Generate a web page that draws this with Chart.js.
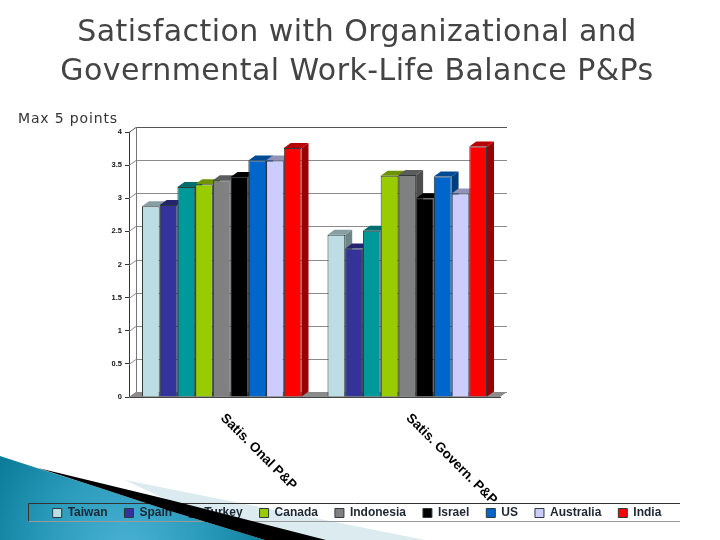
<!DOCTYPE html>
<html lang="en">
<head>
<meta charset="UTF-8">
<title>Satisfaction with Work-Life Balance P&amp;Ps</title>
<script src="https://cdn.jsdelivr.net/npm/chart.js"></script>
<style>
    html, body { margin: 0; background: #fff; }
    #wrap { position: relative; width: 720px; height: 540px; overflow: hidden; }
    #heading { position: absolute; left: 0; top: 11px; width: 714px; text-align: center; font: 30px/39px "DejaVu Sans"; letter-spacing: 0.45px; color: #444; }
    #maxNote { position: absolute; left: 18px; top: 110px; font: 14px "DejaVu Sans"; letter-spacing: 0.85px; color: #333; }
</style>
</head>
<body>
<div id="wrap">
    <canvas id="myChart" width="720" height="540"></canvas>
    <div id="heading"></div>
    <div id="maxNote">Max 5 points</div>
</div>
<script>
const categories = ['Satis. Onal P&P', 'Satis. Govern. P&P'];
const countries = ['Taiwan', 'Spain', 'Turkey', 'Canada', 'Indonesia', 'Israel', 'US', 'Australia', 'India'];
const onalValues = [2.88, 2.9, 3.17, 3.21, 3.27, 3.32, 3.57, 3.57, 3.76];
const governValues = [2.45, 2.24, 2.51, 3.34, 3.35, 3.0, 3.33, 3.07, 3.78];
const barColors = ['#bbdde3', '#333399', '#009999', '#99cc00', '#808080', '#000000', '#0066cc', '#ccccff', '#ff0000'];
const titleLines = ['Satisfaction with Organizational and', 'Governmental Work-Life Balance P&Ps'];

document.getElementById('heading').innerHTML = titleLines.map(t => t.replace('&', '&amp;')).join('<br>');

// depth of the fake 3d, px
const DX = 7, DY = 5;

function darken(hex, f) {
    const n = parseInt(hex.slice(1), 16);
    return `rgb(${((n >> 16) & 255) * f},${((n >> 8) & 255) * f},${(n & 255) * f})`;
}

function poly(ctx, pts, fill) {
    ctx.beginPath();
    pts.forEach((p, i) => i ? ctx.lineTo(p[0], p[1]) : ctx.moveTo(p[0], p[1]));
    ctx.closePath();
    ctx.fillStyle = fill;
    ctx.fill();
}

// slide decoration, behind the chart
function drawSwoosh(ctx) {
    poly(ctx, [[125, 480], [425, 540], [250, 540]], '#dcebf0');

    const g = ctx.createRadialGradient(125, 545, 10, 125, 545, 150);
    g.addColorStop(0, '#45aed0');
    g.addColorStop(0.5, '#2a9abb');
    g.addColorStop(1, '#0a7c98');
    poly(ctx, [[0, 456], [40, 469], [100, 488], [170, 511], [265, 540], [0, 540]], g);
}

// black band runs over the legend in the reference
function drawBand(ctx) {
    poly(ctx, [[38, 468], [100, 483], [170, 500], [326, 540], [265, 540], [170, 511], [100, 488]], '#000');
}

const wallPlugin = {
    id: 'wall',
    beforeDraw(chart) {
        const ctx = chart.ctx;
        ctx.save();
        drawSwoosh(ctx);
        // legend frame
        ctx.lineWidth = 1;
        ctx.strokeStyle = '#333';
        ctx.beginPath();
        ctx.moveTo(28.5, 521.5); ctx.lineTo(28.5, 503.5); ctx.lineTo(680, 503.5);
        ctx.stroke();
        ctx.strokeStyle = '#999';
        ctx.beginPath();
        ctx.moveTo(28.5, 521.5); ctx.lineTo(680, 521.5);
        ctx.stroke();
        ctx.restore();
    },
    // walls first, then bars left to right: side, top, library front face
    beforeDatasetsDraw(chart) {
        const ctx = chart.ctx, a = chart.chartArea, y = chart.scales.y;
        ctx.save();
        poly(ctx, [[a.left, a.bottom], [a.left + DX, a.bottom - DY], [a.right + DX, a.bottom - DY], [a.right, a.bottom]], '#8c8c8c');
        ctx.lineWidth = 1;
        y.ticks.forEach(t => {
            const py = Math.round(y.getPixelForValue(t.value)) + 0.5;
            ctx.strokeStyle = t.value === 4 ? '#555' : '#8a8a8a';
            ctx.beginPath();
            ctx.moveTo(a.left, py);
            ctx.lineTo(a.left + DX, py - DY);
            ctx.lineTo(a.right + DX, py - DY);
            ctx.stroke();
        });
        ctx.strokeStyle = '#777';
        ctx.beginPath();
        ctx.moveTo(a.left + DX + 0.5, a.top - DY);
        ctx.lineTo(a.left + DX + 0.5, a.bottom - DY);
        ctx.stroke();
        countries.forEach((name, i) => {
            chart.getDatasetMeta(i).data.forEach(bar => {
                const p = bar.getProps(['x', 'y', 'base', 'width']);
                const l = p.x - p.width / 2, r = p.x + p.width / 2;
                poly(ctx, [[r, p.y], [r + DX, p.y - DY], [r + DX, p.base - DY], [r, p.base]], darken(barColors[i], 0.6));
                poly(ctx, [[l, p.y], [l + DX, p.y - DY], [r + DX, p.y - DY], [r, p.y]], darken(barColors[i], 0.72));
                bar.draw(ctx);
            });
        });
        ctx.restore();
    },
    beforeDatasetDraw() {
        return false; // already painted above, in the right order
    },
    afterDraw(chart) {
        const ctx = chart.ctx, x = chart.scales.x;
        ctx.save();
        // category labels slant down to the right
        ctx.font = 'bold 13.5px "Liberation Sans"';
        ctx.fillStyle = '#000';
        ctx.textAlign = 'left';
        ctx.textBaseline = 'middle';
        categories.forEach((c, i) => {
            ctx.save();
            ctx.translate(x.getPixelForTick(i) + 1, chart.chartArea.bottom + 19);
            ctx.rotate(Math.PI / 4);
            ctx.fillText(c, 0, 0);
            ctx.restore();
        });
        drawBand(ctx);
        ctx.restore();
    }
};

new Chart(document.getElementById('myChart'), {
    type: 'bar',
    data: {
        labels: categories,
        datasets: countries.map((name, i) => ({
            label: name,
            data: [onalValues[i], governValues[i]],
            backgroundColor: barColors[i],
            borderColor: '#2f3a3c',
            borderWidth: 1,
            categoryPercentage: 0.86,
            barPercentage: 1
        }))
    },
    options: {
        responsive: false,
        animation: false,
        layout: { padding: { top: 132, right: 6, bottom: 11 } },
        plugins: {
            legend: {
                position: 'bottom',
                labels: {
                    boxWidth: 9,
                    boxHeight: 9,
                    padding: 17,
                    color: '#1c2733',
                    font: { family: 'Liberation Sans', size: 12, weight: 'bold' }
                }
            },
            tooltip: { enabled: false }
        },
        scales: {
            x: {
                grid: { display: false },
                border: { color: '#444' },
                ticks: { display: false },
                afterFit(s) { s.height = 93; }
            },
            y: {
                min: 0,
                max: 4,
                ticks: {
                    stepSize: 0.5,
                    color: '#111',
                    padding: 3,
                    font: { family: 'Liberation Sans', size: 7.5, weight: 'bold' },
                    callback: v => String(v)
                },
                grid: { drawOnChartArea: false, tickLength: 4, color: '#333' },
                border: { color: '#333' },
                afterFit(s) { s.width = 129; }
            },
            // empty axis, only keeps the plot off the right side
            pad: {
                position: 'right',
                display: true,
                grid: { display: false },
                border: { display: false },
                ticks: { display: false },
                afterFit(s) { s.width = 214; }
            }
        }
    },
    plugins: [wallPlugin]
});
</script>
</body>
</html>
